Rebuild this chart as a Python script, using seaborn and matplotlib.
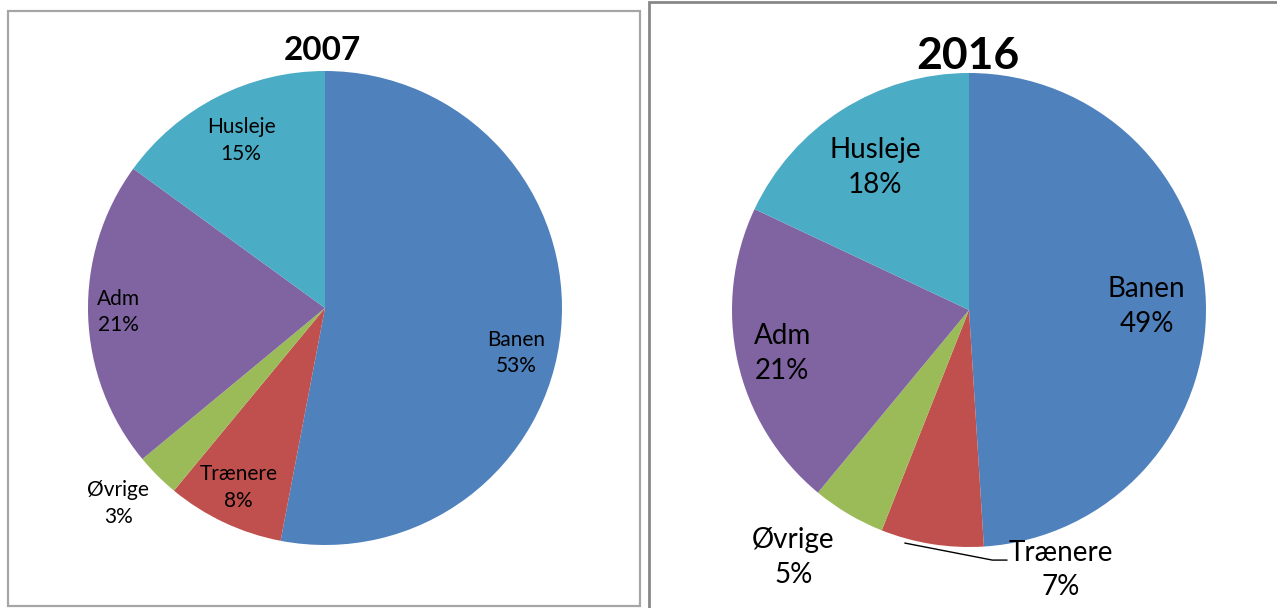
import numpy as np
import matplotlib
matplotlib.use("Agg")
import matplotlib.pyplot as plt
from matplotlib.patches import Rectangle
import seaborn as sns

# --- data ---
categories = ["Banen", "Trænere", "Øvrige", "Adm", "Husleje"]
values_2007 = [53, 8, 3, 21, 15]
values_2016 = [49, 7, 5, 21, 18]
colors = ["#4F81BD", "#C0504D", "#9BBB59", "#8064A2", "#4BACC6"]

# label placement: (angle offset from wedge middle in degrees, radius factor)
place_2007 = [(-7.8, 0.83), (-0.6, 0.84), (-1.6, 1.20), (-0.7, 0.87), (-0.4, 0.79)]
place_2016 = [(-0.8, 0.75), (28.5, 1.164), (-4.8, 1.28), (0.6, 0.81), (1.1, 0.72)]

W, H = 1277, 608

sns.set_theme(style="white")
plt.rcParams['font.family'] = ['Lato', 'DejaVu Sans']

fig = plt.figure(figsize=(W / 100, H / 100), dpi=100)
fig.patch.set_facecolor("white")

# frames around the two chart areas
fig.add_artist(Rectangle((8 / W, 2 / H), 632 / W, 595 / H, transform=fig.transFigure,
                         fill=False, edgecolor="#A6A6A6", linewidth=1.6))
fig.add_artist(Rectangle((649 / W, -20 / H), 700 / W, 626 / H, transform=fig.transFigure,
                         fill=False, edgecolor="#878787", linewidth=2.0))


def draw_pie(cx, cy, r, values, place, title, title_xy, title_size, label_size, leader=None):
    ax = fig.add_axes([(cx - r) / W, (H - cy - r) / H, 2 * r / W, 2 * r / H])
    wedges, _ = ax.pie(values, colors=sns.color_palette(colors), startangle=90,
                       counterclock=False, radius=1.0,
                       wedgeprops=dict(linewidth=0))
    ax.set_xlim(-1, 1)
    ax.set_ylim(-1, 1)
    ax.set_aspect("equal")
    ax.axis("off")

    for i, (w, cat, v) in enumerate(zip(wedges, categories, values)):
        off, rf = place[i]
        ang = np.deg2rad((w.theta1 + w.theta2) / 2 + off)
        lx, ly = rf * np.cos(ang), rf * np.sin(ang)
        ax.text(lx, ly, f"{cat}\n{v}%", ha="center", va="center",
                fontsize=label_size, color="black", linespacing=1.42, clip_on=False)
        if leader is not None and leader == i:
            # leader line from the slice edge to the outside label
            a0 = np.deg2rad((w.theta1 + w.theta2) / 2 - 6.4)
            xs = [np.cos(a0) * 1.02, lx - 0.29, lx - 0.228]
            ys = [np.sin(a0) * 1.02, ly + 0.042, ly + 0.042]
            ax.plot(xs, ys, color="black", linewidth=1.0, clip_on=False)

    fig.text(title_xy[0] / W, 1 - title_xy[1] / H, title, ha="center", va="center",
             fontsize=title_size, fontweight="bold", color="black")


draw_pie(325, 308, 237, values_2007, place_2007, "2007", (322, 51), 24, 15)
draw_pie(969, 310, 237, values_2016, place_2016, "2016", (968, 56), 32, 20, leader=1)

fig.savefig("out.png", dpi=100, facecolor="white")
